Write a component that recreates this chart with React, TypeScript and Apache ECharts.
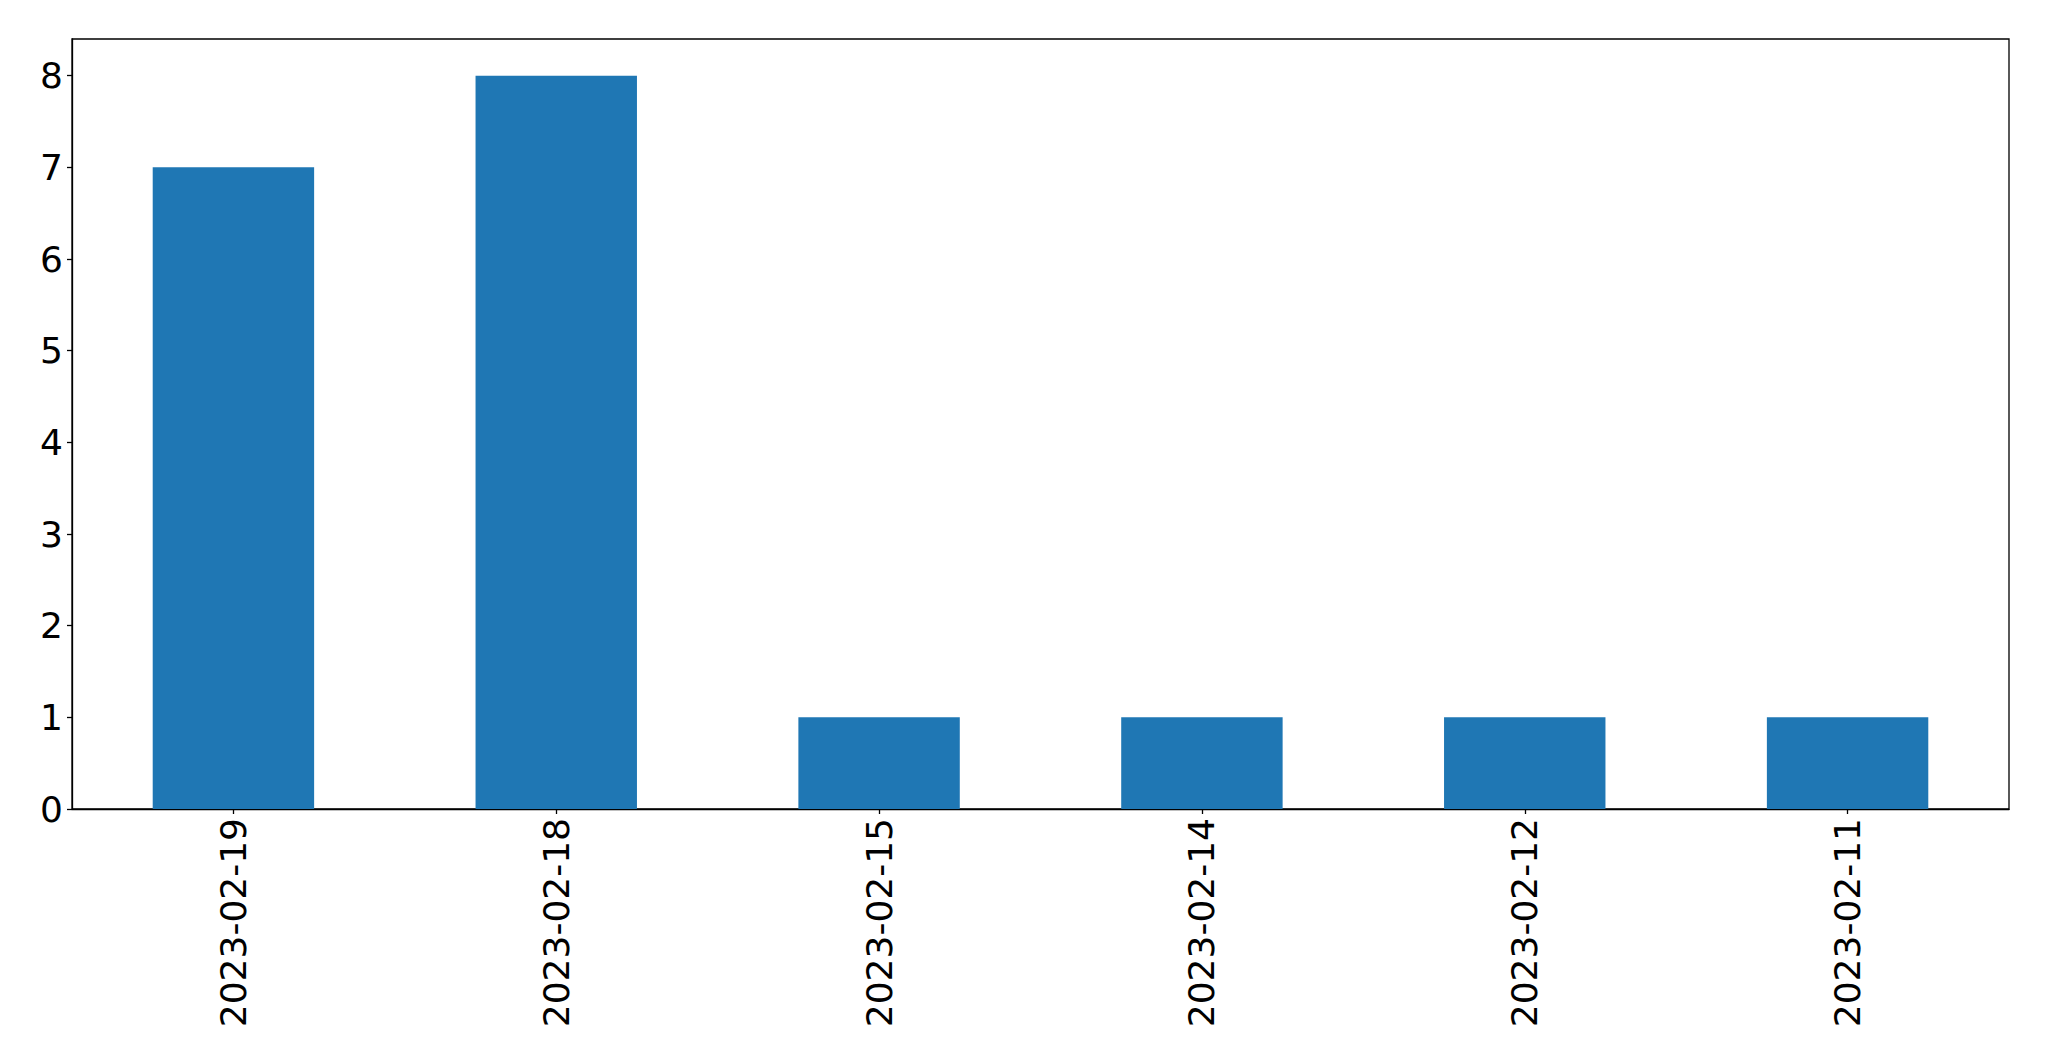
import React, { useEffect, useRef } from "react";
import * as echarts from "echarts";

const categories = ["2023-02-19", "2023-02-18", "2023-02-15", "2023-02-14", "2023-02-12", "2023-02-11"];
const values = [7, 8, 1, 1, 1, 1];
const yTicks = [0, 1, 2, 3, 4, 5, 6, 7, 8];

export default function App() {
  const ref = useRef<HTMLDivElement>(null);
  useEffect(() => {
    if (!ref.current) return;
    const chart = echarts.init(ref.current, null, { renderer: "svg" });
    const font = "'DejaVu Sans', sans-serif";
    chart.setOption({
      animation: false,
      backgroundColor: "#ffffff",
      grid: {
        left: 72,
        right: 40,
        top: 39,
        bottom: 252,
        show: true,
        borderColor: "#000000",
        borderWidth: 1.3,
        backgroundColor: "transparent",
        containLabel: false,
      },
      xAxis: {
        type: "category",
        data: categories,
        boundaryGap: true,
        axisLine: { show: true, lineStyle: { color: "#000000", width: 1.3 } },
        axisTick: { show: true, alignWithLabel: true, length: 5, lineStyle: { color: "#000000", width: 1.3 } },
        axisLabel: {
          rotate: 90,
          margin: 9,
          fontSize: 36,
          fontFamily: font,
          color: "#000000",
          interval: 0,
        },
        splitLine: { show: false },
      },
      yAxis: {
        type: "value",
        min: 0,
        max: 8.4,
        interval: 1,
        axisLine: { show: true, lineStyle: { color: "#000000", width: 1.3 } },
        axisTick: { show: true, length: 5, lineStyle: { color: "#000000", width: 1.3 }, customValues: yTicks },
        axisLabel: {
          margin: 9,
          fontSize: 36,
          fontFamily: font,
          color: "#000000",
          customValues: yTicks,
        },
        splitLine: { show: false },
      },
      series: [
        {
          type: "bar",
          data: values,
          barWidth: "50%",
          itemStyle: { color: "#1f77b4" },
        },
      ],
    });
    return () => chart.dispose();
  }, []);
  return <div ref={ref} style={{ width: 2049, height: 1061, position: "absolute", left: 0, top: 0 }} />;
}
